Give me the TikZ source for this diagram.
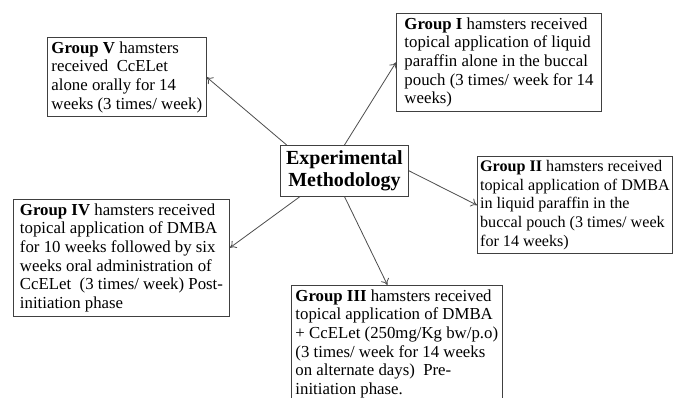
\documentclass[tikz,border=0pt]{standalone}
\usepackage{fontspec}
\setmainfont{Liberation Serif}
\usetikzlibrary{arrows.meta}
\begin{document}
\begin{tikzpicture}[
    x=0.75pt, y=0.75pt,
    font=\fontsize{12.6}{14}\selectfont,
    caja/.style={draw=black!75,line width=0.7pt,anchor=north west,align=left,
                 inner xsep=3pt,inner ysep=3pt},
    centro/.style={draw=black!75,line width=0.7pt,anchor=north west,align=center,
                   font=\fontsize{15}{16.25}\selectfont\bfseries,
                   inner xsep=3pt,inner ysep=4pt,minimum width=96pt},
    flecha/.style={-{To[length=4.5pt,width=6.5pt]},draw=black!70,line width=0.6pt}]

  \useasboundingbox (0,0) rectangle (673,397);

  %% ============================ central node ===============================
  \node[centro] (met) at (280,252) {Experimental\\Methodology};

  %% ============================== groups ===================================
  \node[caja,minimum width=118.5pt] (g5) at (47,360)
    {\textbf{Group V} hamsters\\ received\ \ CcELet\\ alone orally for 14\\ weeks (3 times/ week)};
  \node[caja,minimum width=153.75pt] (g1) at (396,384)
    {\textbf{Group I} hamsters received\\ topical application of liquid\\ paraffin alone in the buccal\\ pouch (3 times/ week for 14\\ weeks)};
  \node[caja,minimum width=144.75pt,inner xsep=2pt,font=\fontsize{12.1}{14}\selectfont] (g2) at (477,241)
    {\textbf{Group II} hamsters received\\ topical application of DMBA\\ in liquid paraffin in the\\ buccal pouch (3 times/ week\\ for 14 weeks)};
  \node[caja,minimum width=162pt] (g4) at (13,198)
    {\textbf{Group IV} hamsters received\\ topical application of DMBA\\ for 10 weeks followed by six\\ weeks oral administration of\\ CcELet\ \ (3 times/ week) Post-\\ initiation phase};
  \node[caja,minimum width=144.75pt] (g3) at (291,112)
    {\textbf{Group III} hamsters received\\ topical application of DMBA\\ + CcELet (250mg/Kg bw/p.o)\\ (3 times/ week for 14 weeks\\ on alternate days)\ \ Pre-\\ initiation phase.};

  %% ============================== arrows ===================================
  \draw[flecha] ([xshift=5pt]met.north west) -- (g5.east);
  \draw[flecha] (met.north) -- (g1.west);
  \draw[flecha] (met.east) -- (g2.west);
  \draw[flecha] ([xshift=15pt]met.south west) -- ([yshift=7.5pt]g4.east);
  \draw[flecha] (met.south) -- ([xshift=-7pt]g3.north);

\end{tikzpicture}
\end{document}
